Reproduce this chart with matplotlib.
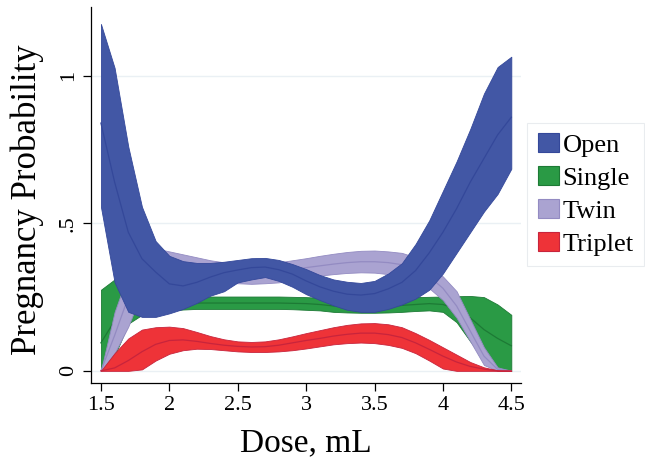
import numpy as np
import matplotlib
matplotlib.use("Agg")
import matplotlib.pyplot as plt
from matplotlib.patches import Patch

plt.rcParams['font.family'] = ['Liberation Serif', 'DejaVu Serif']

# dose grid (mL)
dose = [1.5, 1.6, 1.7, 1.8, 1.9, 2.0, 2.1, 2.2, 2.3, 2.4, 2.5, 2.6, 2.7, 2.8, 2.9, 3.0,
        3.1, 3.2, 3.3, 3.4, 3.5, 3.6, 3.7, 3.8, 3.9, 4.0, 4.1, 4.2, 4.3, 4.4, 4.5]

# Open
open_mean = [0.84, 0.64, 0.47, 0.38, 0.335, 0.295, 0.288, 0.30, 0.318, 0.333, 0.342, 0.35, 0.352, 0.343, 0.328, 0.305,
             0.285, 0.27, 0.26, 0.257, 0.262, 0.278, 0.30, 0.34, 0.40, 0.47, 0.55, 0.64, 0.72, 0.80, 0.86]
open_lo = [0.556, 0.30, 0.20, 0.183, 0.183, 0.195, 0.21, 0.23, 0.255, 0.27, 0.30, 0.31, 0.318, 0.305, 0.285, 0.26,
           0.24, 0.222, 0.207, 0.20, 0.20, 0.21, 0.225, 0.245, 0.275, 0.33, 0.40, 0.47, 0.54, 0.60, 0.685]
open_hi = [1.176, 1.027, 0.76, 0.556, 0.44, 0.39, 0.372, 0.366, 0.366, 0.37, 0.376, 0.382, 0.383, 0.376, 0.362, 0.345,
           0.325, 0.31, 0.302, 0.298, 0.305, 0.33, 0.365, 0.43, 0.51, 0.61, 0.71, 0.82, 0.94, 1.03, 1.065]

# Single
single_mean = [0.095, 0.17, 0.205, 0.215, 0.22, 0.225, 0.228, 0.23, 0.23, 0.23, 0.23, 0.23, 0.23, 0.23, 0.229, 0.228,
               0.225, 0.22, 0.218, 0.215, 0.215, 0.218, 0.222, 0.225, 0.228, 0.225, 0.21, 0.18, 0.14, 0.11, 0.085]
single_lo = [0.0, 0.05, 0.16, 0.19, 0.20, 0.205, 0.208, 0.21, 0.21, 0.21, 0.21, 0.21, 0.21, 0.21, 0.209, 0.207,
             0.205, 0.20, 0.198, 0.197, 0.197, 0.198, 0.20, 0.203, 0.205, 0.20, 0.165, 0.10, 0.04, 0.0, 0.0]
single_hi = [0.275, 0.31, 0.255, 0.245, 0.245, 0.245, 0.248, 0.25, 0.252, 0.252, 0.252, 0.252, 0.252, 0.252, 0.251, 0.25,
             0.248, 0.245, 0.243, 0.242, 0.243, 0.245, 0.248, 0.25, 0.251, 0.252, 0.253, 0.254, 0.25, 0.225, 0.19]

# Twin
twin_mean = [0.0, 0.12, 0.25, 0.35, 0.37, 0.37, 0.36, 0.35, 0.34, 0.335, 0.33, 0.33, 0.33, 0.335, 0.342, 0.35,
             0.356, 0.362, 0.367, 0.37, 0.37, 0.367, 0.36, 0.345, 0.32, 0.28, 0.22, 0.135, 0.05, 0.005, 0.0]
twin_lo = [0.0, 0.06, 0.15, 0.27, 0.33, 0.34, 0.33, 0.315, 0.305, 0.30, 0.297, 0.295, 0.297, 0.30, 0.31, 0.318,
           0.323, 0.328, 0.332, 0.334, 0.333, 0.328, 0.32, 0.305, 0.28, 0.24, 0.18, 0.10, 0.02, 0.0, 0.0]
twin_hi = [0.0, 0.20, 0.33, 0.41, 0.415, 0.405, 0.395, 0.385, 0.375, 0.368, 0.362, 0.36, 0.362, 0.368, 0.375, 0.382,
           0.39, 0.397, 0.403, 0.407, 0.408, 0.405, 0.40, 0.385, 0.36, 0.32, 0.27, 0.175, 0.08, 0.012, 0.0]

# Triplet
trip_mean = [0.0, 0.01, 0.035, 0.065, 0.09, 0.103, 0.105, 0.10, 0.093, 0.087, 0.083, 0.081, 0.082, 0.087, 0.095, 0.103,
             0.11, 0.118, 0.124, 0.128, 0.128, 0.123, 0.113, 0.095, 0.073, 0.05, 0.03, 0.015, 0.006, 0.0, 0.0]
trip_lo = [0.0, 0.0, 0.0, 0.005, 0.035, 0.058, 0.07, 0.075, 0.074, 0.07, 0.066, 0.064, 0.064, 0.066, 0.07, 0.076,
           0.083, 0.09, 0.094, 0.096, 0.094, 0.088, 0.078, 0.06, 0.035, 0.008, 0.0, 0.0, 0.0, 0.0, 0.0]
trip_hi = [0.0, 0.06, 0.11, 0.14, 0.148, 0.15, 0.145, 0.132, 0.118, 0.107, 0.10, 0.098, 0.10, 0.107, 0.117, 0.128,
           0.138, 0.148, 0.156, 0.161, 0.162, 0.158, 0.148, 0.128, 0.105, 0.08, 0.055, 0.03, 0.012, 0.002, 0.0]

labels = ["Open", "Single", "Twin", "Triplet"]
fills = ["#4257a5", "#2a9a45", "#aaa3d1", "#ee3338"]
lines = ["#34489a", "#1d7a35", "#938bc2", "#c8243c"]

fig = plt.figure(figsize=(6.45, 4.57), dpi=100)
ax = fig.add_axes([0.141, 0.162, 0.667, 0.823])

series = [(open_mean, open_lo, open_hi), (single_mean, single_lo, single_hi),
          (twin_mean, twin_lo, twin_hi), (trip_mean, trip_lo, trip_hi)]
zorders = [5, 2, 3, 4]

for (m, lo, hi), fc, lc, z in zip(series, fills, lines, zorders):
    ax.fill_between(dose, lo, hi, facecolor=fc, edgecolor=lc, linewidth=0.6, zorder=z)
    ax.plot(dose, m, color=lc, linewidth=0.9, zorder=z + 0.1)

ax.set_xlim(1.427, 4.572)
ax.set_ylim(-0.041, 1.234)
ax.set_xticks([1.5, 2, 2.5, 3, 3.5, 4, 4.5])
ax.set_xticklabels(["1.5", "2", "2.5", "3", "3.5", "4", "4.5"])
ax.set_yticks([0, 0.5, 1])
ax.set_yticklabels(["0", ".5", "1"], rotation=90, va="center")
ax.tick_params(labelsize=16, length=6, width=0.9, color="black")
ax.grid(axis="y", color="#eaf0f4", linewidth=1.0, zorder=0)
ax.set_axisbelow(True)
for s in ["top", "right"]:
    ax.spines[s].set_visible(False)
for s in ["left", "bottom"]:
    ax.spines[s].set_linewidth(0.9)

ax.set_xlabel("Dose, mL", fontsize=24, labelpad=9)
ax.set_ylabel("Pregnancy Probability", fontsize=25)
ax.yaxis.set_label_coords(-0.108, 0.487)

handles = [Patch(facecolor=fc, edgecolor=lc, linewidth=0.8, label=lb)
           for fc, lc, lb in zip(fills, lines, labels)]
leg = fig.legend(handles=handles, loc="upper left", bbox_to_anchor=(0.817, 0.731),
                 fontsize=19, frameon=True, fancybox=False, handlelength=0.8,
                 handleheight=0.7, handletextpad=0.15, labelspacing=0.36,
                 borderpad=0.4, borderaxespad=0)
leg.get_frame().set_edgecolor("#e4e8ec")
leg.get_frame().set_linewidth(0.8)

fig.savefig("out.png", dpi=100)
